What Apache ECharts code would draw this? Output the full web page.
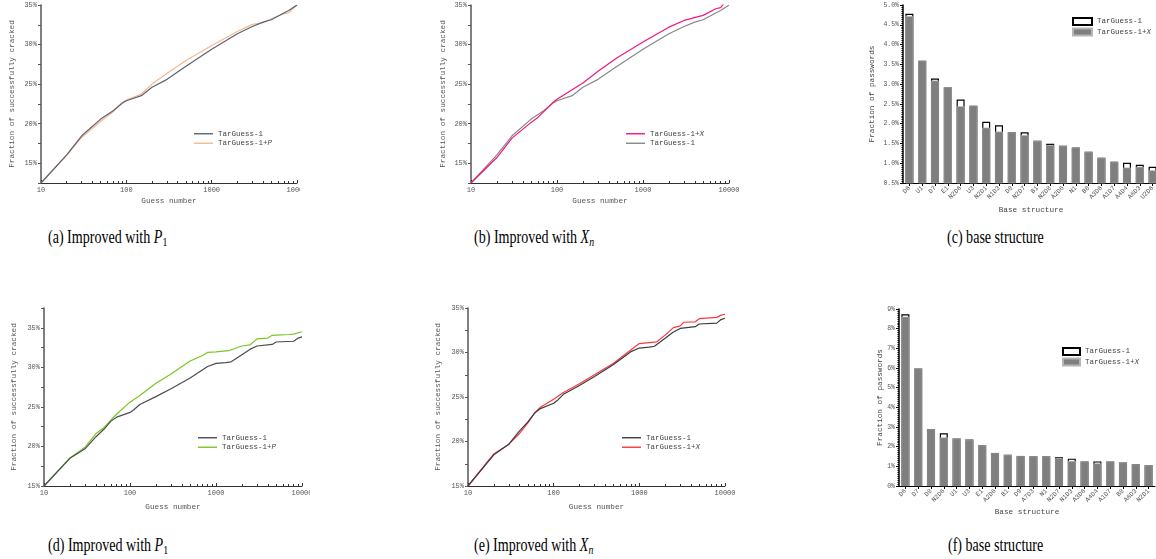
<!DOCTYPE html>
<html>
<head>
<meta charset="utf-8">
<script src="https://cdn.jsdelivr.net/npm/echarts@6/dist/echarts.min.js"></script>
<style>
html,body{margin:0;padding:0;background:#fff;}
body{width:1156px;height:559px;position:relative;overflow:hidden;}
.box{position:absolute;overflow:hidden;}
.inner{position:absolute;left:0;top:0;}
.cap{position:absolute;font-family:'Liberation Serif',serif;font-size:19px;line-height:1;white-space:nowrap;transform:scaleX(0.74);transform-origin:left top;color:#000;}
.cap sub{font-size:0.7em;vertical-align:-0.25em;}
</style>
</head>
<body>
<div class="box" style="left:0;top:0;width:300px;height:215px"><div id="ca" class="inner" style="width:330px;height:215px"></div></div>
<div class="box" style="left:420px;top:0;width:330px;height:215px"><div id="cb" class="inner" style="width:330px;height:215px"></div></div>
<div class="box" style="left:850px;top:0;width:306px;height:220px"><div id="cc" class="inner" style="width:330px;height:220px"></div></div>
<div class="box" style="left:0;top:300px;width:310px;height:225px"><div id="cd" class="inner" style="width:340px;height:225px"></div></div>
<div class="box" style="left:420px;top:300px;width:330px;height:225px"><div id="ce" class="inner" style="width:330px;height:225px"></div></div>
<div class="box" style="left:850px;top:300px;width:306px;height:225px"><div id="cf" class="inner" style="width:330px;height:225px"></div></div>

<div class="cap" style="left:48px;top:227px">(a) Improved with <i>P</i><sub>1</sub></div>
<div class="cap" style="left:474px;top:227px">(b) Improved with <i>X<sub>n</sub></i></div>
<div class="cap" style="left:947px;top:227px">(c) base structure</div>
<div class="cap" style="left:48px;top:535px">(d) Improved with <i>P</i><sub>1</sub></div>
<div class="cap" style="left:474px;top:535px">(e) Improved with <i>X<sub>n</sub></i></div>
<div class="cap" style="left:948px;top:535px">(f) base structure</div>

<script>
// ---------- DATA ----------
// Top row line charts (a), (b)
const xTop1 = [10,20,30,50,70,90,100,150,200,300,500,1000,2000,3000,4000,5000,7000,8000,10000];
const yTop1 = [12.5,16.06,18.47,20.58,21.64,22.61,22.9,23.54,24.6,25.6,27.26,29.42,31.36,32.29,32.84,33.14,33.99,34.3,35.0];
const xTopP = [10,20,30,50,70,90,100,150,200,300,500,1000,2000,3000,4000,5000,7000,8000,10000];
const yTopP = [12.5,16.0,18.26,20.3,21.5,22.7,23.0,23.75,25.0,26.37,27.98,29.88,31.66,32.55,32.76,33.27,33.9,34.0,35.0];
const xTopX = [10,20,30,50,60,90,100,200,300,500,1000,2000,3000,5000,7000,8000,9000,10000];
const yTopX = [12.5,15.72,18.17,20.16,20.79,22.7,23.08,25.15,26.63,28.32,30.31,32.2,33.05,33.69,34.53,34.66,35.4,35.8];
// Bottom row line charts (d), (e)
const xBot1 = [10,20,30,40,50,60,70,100,110,130,200,300,500,700,800,1000,1300,1500,2000,2500,3000,4500,5000,8000,9000,10000];
const yBot1 = [15.0,18.5,19.7,21.2,22.2,23.2,23.7,24.3,24.6,25.3,26.3,27.3,28.65,29.7,30.1,30.5,30.6,30.7,31.6,32.3,32.7,32.9,33.2,33.3,33.7,33.85];
const xBotP = [10,20,30,40,50,70,100,130,200,300,500,700,800,1000,1400,2000,2500,3000,4000,4500,7000,8000,10000];
const yBotP = [15.0,18.55,19.9,21.6,22.4,24.1,25.6,26.45,28.0,29.15,30.8,31.5,31.9,31.95,32.1,32.7,32.85,33.6,33.7,34.05,34.15,34.2,34.5];
const xBotX = [10,20,30,40,50,60,70,100,130,200,300,500,800,1000,1600,2000,2500,3000,3300,4500,5000,8000,9000,10000];
const yBotX = [15.0,18.6,19.7,20.9,22.1,23.2,23.85,24.75,25.5,26.5,27.5,28.8,30.3,31.0,31.2,31.95,32.8,33.0,33.4,33.45,33.8,33.95,34.2,34.3];
// Bar chart (c)
const catsC = ['D6','U1','D7','E1','N2D6','U3','N2D1','N1D3','D8','N2D7','B1','N2D8','A2D6','N1','B8','A3D6','A1D7','A4D4','A6D3','U2D6'];
const t1C = [4.78,3.59,3.14,2.92,2.61,2.45,2.05,1.96,1.78,1.78,1.57,1.49,1.44,1.40,1.29,1.14,1.04,1.01,0.96,0.91];
const xC  = [4.72,3.59,3.09,2.92,2.44,2.45,1.90,1.80,1.78,1.71,1.57,1.46,1.44,1.40,1.29,1.14,1.04,0.89,0.91,0.82];
// Bar chart (f)
const catsF = ['D6','D7','D8','N2D6','U1','U3','E1','A2D6','B1','D9','A7D3','N1','N2D7','N1D3','A3D6','A4D4','A1D7','B8','A6D3','N2D1'];
const t1F = [8.73,5.98,2.88,2.68,2.42,2.36,2.07,1.68,1.59,1.53,1.51,1.51,1.46,1.39,1.25,1.25,1.25,1.20,1.10,1.05];
const xF  = [8.61,5.98,2.88,2.47,2.42,2.36,2.07,1.68,1.59,1.53,1.51,1.51,1.41,1.27,1.25,1.15,1.25,1.20,1.10,1.05];

// ---------- HELPERS ----------
const MONO = "'Liberation Mono', 'DejaVu Sans Mono', monospace";
function pairs(xs, ys){ return xs.map((x,i)=>[x, ys[i]]); }

function lineChart(id, o){
  const c = echarts.init(document.getElementById(id));
  const labels = {};
  o.series.forEach(s=>labels[s.id]=s.label);
  c.setOption({
    animation:false,
    grid:{left:o.left, top:o.top, width:o.w, height:o.h},
    xAxis:{type:'log', logBase:10, min:10, max:10000,
      name:'Guess number', nameLocation:'middle', nameGap:o.xGap, nameMoveOverlap:false,
      nameTextStyle:{fontFamily:MONO, fontSize:7.7, color:'#555'},
      axisLine:{lineStyle:{color:'#333', width:1}},
      axisTick:{show:true, inside:true, length:3, lineStyle:{color:'#333'}},
      minorTick:{show:true, splitNumber:9, length:2, lineStyle:{color:'#333'}},
      axisLabel:{fontFamily:MONO, fontSize:7, color:'#555', margin:4, showMinLabel:true, showMaxLabel:true,
        alignMinLabel:'center', alignMaxLabel:'center', hideOverlap:false,
        formatter:v=>String(Math.round(v))},
      splitLine:{show:false}, minorSplitLine:{show:false}},
    yAxis:{type:'value', min:o.ymin, max:o.ymax, interval:2.5,
      name:'Fraction of successfully cracked', nameLocation:'middle', nameGap:o.yGap, nameMoveOverlap:false,
      nameTextStyle:{fontFamily:MONO, fontSize:7.7, color:'#555'},
      axisLine:{show:true, lineStyle:{color:'#555', width:1.5}},
      axisTick:{show:true, length:3, lineStyle:{color:'#555'}},
      axisLabel:{fontFamily:MONO, fontSize:7, color:'#555', margin:4,
        formatter:v=>(Math.abs(v%5)<1e-6) ? v+'%' : ''},
      splitLine:{show:false}},
    legend:{orient:'vertical', left:o.legLeft, top:o.legTop, itemWidth:19, itemHeight:1.4, itemGap:0,
      icon:'rect',
      data:o.series.map(s=>s.id),
      formatter:n=>labels[n],
      textStyle:{fontFamily:MONO, fontSize:7.5, color:'#444', lineHeight:9.5,
        rich:{i:{fontFamily:MONO, fontSize:7.5, fontStyle:'italic', color:'#444', lineHeight:9.5}}}},
    series:o.series.map(s=>({
      type:'line', name:s.id, data:pairs(s.x, s.y), symbol:'none', z:s.z||2,
      lineStyle:{color:s.color, width:1.2}, itemStyle:{color:s.color}, clip:true}))
  });
}

function barChart(id, o){
  const c = echarts.init(document.getElementById(id));
  c.setOption({
    animation:false,
    grid:{left:o.left, top:o.top, width:o.w, height:o.h},
    xAxis:{type:'category', data:o.cats, name:'Base structure', nameLocation:'middle', nameGap:o.xGap, nameMoveOverlap:false,
      nameTextStyle:{fontFamily:MONO, fontSize:7.7, color:'#444'},
      axisLine:{lineStyle:{color:'#000', width:1}},
      axisTick:{show:true, alignWithLabel:true, length:3, lineStyle:{color:'#000'}},
      axisLabel:{fontFamily:MONO, fontSize:6.5, color:'#555', rotate:45, margin:4, interval:0, hideOverlap:false}},
    yAxis:{type:'value', min:o.ymin, max:o.ymax, interval:o.step,
      name:'Fraction of passwords', nameLocation:'middle', nameGap:o.yGap, nameMoveOverlap:false,
      nameTextStyle:{fontFamily:MONO, fontSize:7.7, color:'#444'},
      axisLine:{show:true, lineStyle:{color:'#000', width:1.5}},
      axisTick:{show:true, length:3, lineStyle:{color:'#000'}},
      minorTick:{show:true, splitNumber:10, length:1.5, lineStyle:{color:'#000'}},
      axisLabel:{fontFamily:MONO, fontSize:6.5, color:'#555', margin:4, formatter:o.fmt},
      splitLine:{show:false}, minorSplitLine:{show:false}},
    legend:{orient:'vertical', left:o.legLeft, top:o.legTop, itemWidth:o.legW, itemHeight:7, itemGap:1.5,
      icon:'rect', data:['t1','tx'],
      formatter:n=> n==='t1' ? 'TarGuess-1' : 'TarGuess-1+{i|X}',
      textStyle:{fontFamily:MONO, fontSize:7.5, color:'#444', lineHeight:9,
        rich:{i:{fontFamily:MONO, fontSize:7.5, fontStyle:'italic', color:'#444', lineHeight:9}}}},
    series:[
      {type:'bar', name:'t1', data:o.t1, barWidth:8, itemStyle:{color:'#fff', borderColor:'#000', borderWidth:1.2}},
      {type:'bar', name:'tx', data:o.tx, barWidth:8, barGap:'-100%', itemStyle:{color:'#7f7f7f', borderColor:'#b5b5b5', borderWidth:0.6}}
    ]
  });
}

// ---------- CHARTS ----------
lineChart('ca', {left:40, top:5, w:257, h:178, ymin:12.5, ymax:35, xGap:14, yGap:25, legLeft:189, legTop:124,
  series:[
    {id:'a1', label:'TarGuess-1', x:xTop1, y:yTop1, color:'#5d6272', z:3},
    {id:'a2', label:'TarGuess-1+{i|P}', x:xTopP, y:yTopP, color:'#f4b98c', z:2}
  ]});
lineChart('cb', {left:51, top:5, w:258, h:178, ymin:12.5, ymax:35, xGap:14, yGap:24, legLeft:201, legTop:124,
  series:[
    {id:'b2', label:'TarGuess-1+{i|X}', x:xTopX, y:yTopX, color:'#f5157f', z:3},
    {id:'b1', label:'TarGuess-1', x:xTop1, y:yTop1, color:'#878787', z:2}
  ]});
lineChart('cd', {left:44, top:8, w:258, h:178, ymin:15, ymax:37.5, xGap:17, yGap:26, legLeft:193, legTop:128,
  series:[
    {id:'d1', label:'TarGuess-1', x:xBot1, y:yBot1, color:'#4a4b56', z:3},
    {id:'d2', label:'TarGuess-1+{i|P}', x:xBotP, y:yBotP, color:'#7cc520', z:2}
  ]});
lineChart('ce', {left:48, top:8, w:257, h:178, ymin:15, ymax:35, xGap:17, yGap:26, legLeft:197, legTop:128,
  series:[
    {id:'e1', label:'TarGuess-1', x:xBot1, y:yBot1, color:'#3c3c46', z:3},
    {id:'e2', label:'TarGuess-1+{i|X}', x:xBotX, y:yBotX, color:'#ff3838', z:2}
  ]});
barChart('cc', {left:53, top:5, w:256, h:178, cats:catsC, t1:t1C, tx:xC, ymin:0.5, ymax:5.0, step:0.5,
  fmt:v=>v.toFixed(1)+'%', xGap:23, yGap:27, legLeft:217, legTop:12, legW:19});
barChart('cf', {left:49, top:9, w:256, h:177, cats:catsF, t1:t1F, tx:xF, ymin:0, ymax:9, step:1,
  fmt:v=>v+'%', xGap:22, yGap:15, legLeft:207, legTop:42, legW:17});
</script>
</body>
</html>
